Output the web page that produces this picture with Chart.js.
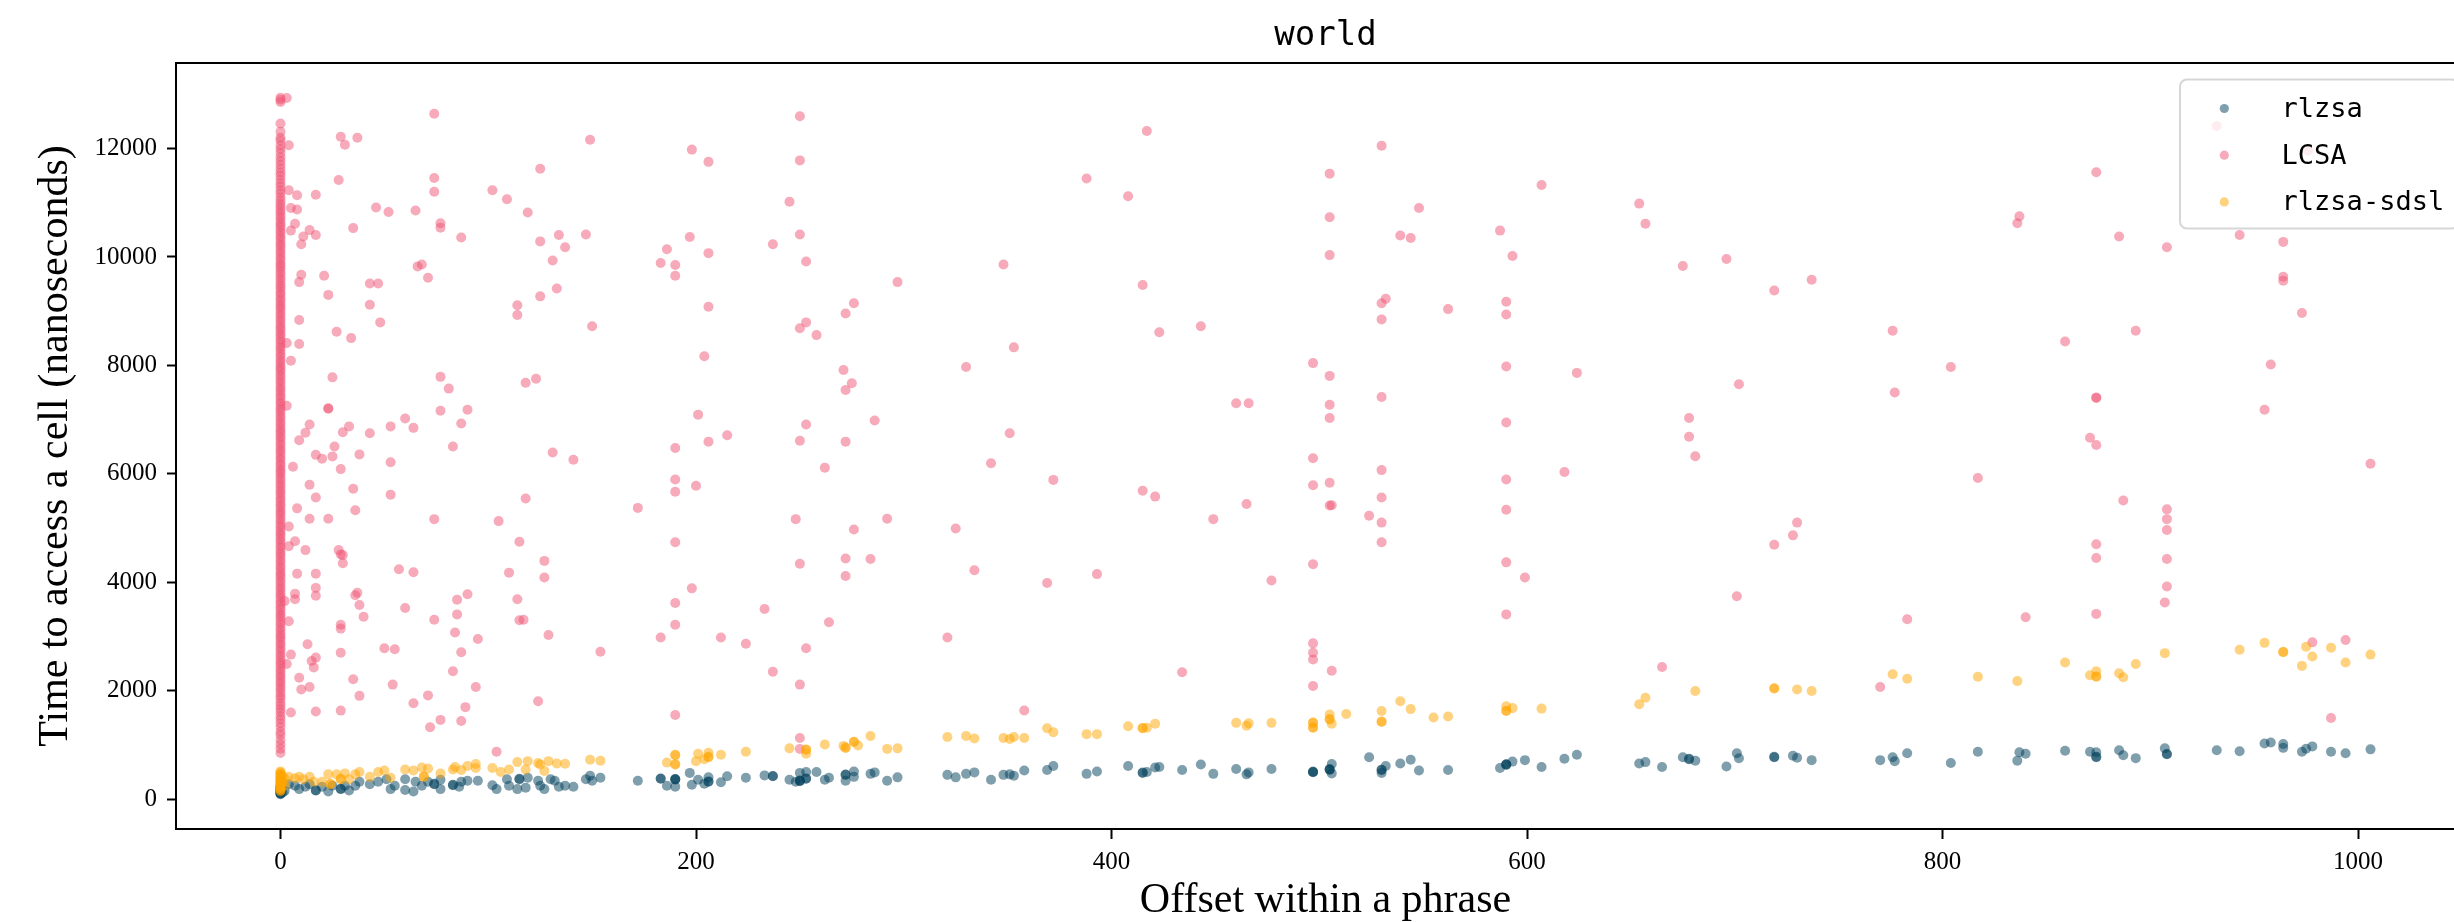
<!DOCTYPE html>
<html>
<head>
<meta charset="utf-8">
<script src="https://cdn.jsdelivr.net/npm/chart.js@4.4.1/dist/chart.umd.min.js"></script>
<style>
  html, body { margin: 0; padding: 0; background: #fff; overflow: hidden; }
  canvas { display: block; }
</style>
</head>
<body>
<canvas id="chart" width="2480" height="922"></canvas>
<script>
// --- data: [offset, nanoseconds] ---
var chartTitle = 'world';
var seriesNames = ['rlzsa', 'LCSA', 'rlzsa-sdsl'];
var xTicks = [0, 200, 400, 600, 800, 1000];
var yTicks = [0, 2000, 4000, 6000, 8000, 10000, 12000];

// samples measured at offset 0 (the dense column)
var rlzsaAtZero = [90, 98, 108, 118, 130, 145, 160, 178, 195, 215, 235];
var sdslAtZero = [140, 160, 178, 195, 212, 228, 245, 262, 278, 295, 310, 326, 342, 360, 376, 392, 410, 428, 446, 466, 488, 510];
var lcsaAtZero = [848, 930, 1010, 1090, 1180, 1240, 1330, 1400, 1470, 1530, 1600, 1660, 1720, 1780, 1850, 1900, 1960, 2020, 2070, 2130,
  2180, 2240, 2290, 2350, 2400, 2460, 2510, 2560, 2620, 2670, 2730, 2780, 2840, 2890, 2950, 3000, 3050, 3110, 3160, 3220,
  3270, 3330, 3380, 3430, 3490, 3540, 3600, 3650, 3710, 3760, 3810, 3870, 3920, 3980, 4030, 4090, 4140, 4190, 4250, 4300,
  4360, 4410, 4470, 4520, 4570, 4630, 4680, 4740, 4790, 4850, 4900, 4950, 5010, 5060, 5120, 5170, 5230, 5280, 5330, 5390,
  5440, 5500, 5550, 5610, 5660, 5710, 5770, 5820, 5880, 5930, 5990, 6040, 6090, 6150, 6200, 6260, 6310, 6370, 6420, 6470,
  6530, 6580, 6640, 6690, 6750, 6800, 6850, 6910, 6960, 7020, 7070, 7130, 7180, 7230, 7290, 7340, 7400, 7450, 7510, 7560,
  7610, 7670, 7720, 7780, 7830, 7890, 7940, 7990, 8050, 8100, 8160, 8210, 8270, 8320, 8370, 8430, 8480, 8540, 8590, 8650,
  8700, 8750, 8810, 8860, 8920, 8970, 9030, 9080, 9130, 9190, 9240, 9300, 9350, 9410, 9460, 9510, 9570, 9620, 9680, 9730,
  9790, 9840, 9890, 9950, 10000, 10060, 10110, 10170, 10220, 10270, 10330, 10380, 10440, 10490, 10550, 10600, 10650, 10710,
  10760, 10820, 10870, 10930, 10980, 11040, 11100, 11170, 11230, 11300, 11360, 11430, 11500, 11560, 11630, 11700, 11770,
  11840, 11920, 11990, 12060, 12150, 12200, 12310, 12460, 12860, 12900, 12935];

var rlzsaPoints = [[1, 120], [2, 150],
  [4, 273], [7, 246], [9, 183], [12, 228], [14, 273], [17, 156], [17, 160], [20, 228], [23, 138], [25, 246], [29, 183], [29, 190],
  [31, 246], [33, 156], [36, 246], [38, 319], [43, 273], [47, 319], [51, 364], [53, 183], [55, 246], [60, 364], [60, 165],
  [64, 138], [65, 319], [68, 246], [71, 319], [74, 273], [74, 280], [77, 183], [77, 355], [83, 255], [83, 262], [87, 319], [86, 228],
  [90, 337], [95, 337], [102, 255], [104, 183], [109, 364], [110, 246], [114, 183], [115, 364], [115, 372], [118, 210], [119, 391],
  [124, 337], [125, 246], [127, 183], [130, 364], [132, 337], [134, 228], [137, 246], [141, 228], [147, 364], [149, 428], [150, 337],
  [154, 391],
  [172, 337], [183, 373], [183, 380], [186, 246], [190, 364], [190, 358], [190, 370], [190, 228], [197, 482], [198, 264], [201, 355],
  [204, 282], [206, 400], [206, 319], [206, 325], [212, 310], [215, 419], [224, 391], [233, 436], [237, 419], [237, 425], [245, 355],
  [248, 319], [250, 482], [250, 337], [250, 330], [250, 344], [253, 500], [253, 373], [253, 380], [258, 500], [262, 355], [264, 391],
  [272, 446], [272, 452], [272, 337], [276, 509], [276, 409], [284, 464], [286, 491], [292, 337], [297, 400], [321, 446], [325, 400],
  [330, 464], [334, 491], [342, 355], [348, 446], [351, 455], [353, 428], [358, 527], [369, 536], [372, 609], [388, 464],
  [393, 509], [408, 608], [415, 482], [415, 490], [417, 500], [421, 581], [423, 590], [434, 536], [443, 636], [449, 464], [460, 554],
  [465, 455], [466, 491], [477, 554], [497, 500], [497, 494], [497, 506], [505, 545], [505, 538], [505, 552], [506, 645], [506, 473],
  [524, 772], [530, 536], [530, 542], [530, 482], [532, 608], [539, 654], [544, 726], [548, 527], [562, 536], [587, 572], [590, 636],
  [590, 630], [590, 642], [593, 690], [599, 717], [607, 590],
  [618, 744], [624, 817], [654, 654], [657, 681], [665, 590], [675, 772], [678, 735], [678, 741], [681, 708], [696, 599], [701, 844],
  [702, 753], [719, 772], [719, 778], [728, 799], [730, 763], [737, 717], [770, 717], [776, 772], [777, 699], [783, 844], [804, 663],
  [817, 871],
  [837, 862], [836, 708], [840, 835], [859, 890], [871, 871], [874, 862], [874, 772], [874, 778], [885, 899], [887, 808], [893, 754],
  [907, 935], [908, 826], [908, 832], [932, 899], [943, 881], [955, 1025], [958, 1043], [964, 1016], [964, 944], [973, 871], [975, 926],
  [978, 971], [987, 871], [994, 844], [1006, 916]];

var lcsaPoints = [[3, 12931], [74, 12641], [29, 12216], [37, 12198], [31, 12071], [149, 12161], [4, 12062], [125, 11627], [28, 11419],
  [74, 11455], [74, 11202], [4, 11229], [8, 11138], [17, 11147], [102, 11229], [109, 11066], [5, 10903], [8, 10876], [46, 10912],
  [52, 10830], [65, 10858], [119, 10821], [77, 10622], [77, 10541], [7, 10613], [5, 10486], [14, 10495], [11, 10378], [17, 10405],
  [10, 10233], [35, 10532], [87, 10360], [125, 10287], [134, 10405], [147, 10414], [137, 10178], [131, 9934], [66, 9826], [68, 9862],
  [71, 9617], [10, 9671], [9, 9536], [21, 9653], [43, 9509], [47, 9509], [23, 9300], [133, 9418], [125, 9273], [43, 9119], [114, 9110],
  [114, 8929], [48, 8793], [9, 8838], [150, 8721], [27, 8621], [34, 8503], [3, 8413], [9, 8395], [5, 8087], [25, 7779], [77, 7788],
  [81, 7571], [123, 7752], [118, 7680], [3, 7254], [23, 7200], [23, 7210], [60, 7019], [77, 7164], [90, 7182], [14, 6910], [12, 6756],
  [33, 6874], [30, 6765], [43, 6747], [53, 6874], [64, 6847], [87, 6928], [9, 6620], [83, 6503], [26, 6503], [17, 6349], [20, 6276],
  [25, 6321], [38, 6358], [53, 6213], [131, 6394], [141, 6258], [6, 6131], [29, 6086], [14, 5796], [17, 5561], [35, 5724], [53, 5615],
  [118, 5543], [8, 5362], [14, 5172], [23, 5172], [36, 5326], [74, 5163], [105, 5127], [172, 5371], [4, 5027], [7, 4755], [4, 4665],
  [12, 4592], [115, 4746], [28, 4592], [29, 4511], [30, 4500], [30, 4348], [127, 4393], [8, 4158], [17, 4158], [57, 4239], [64, 4185],
  [110, 4176], [127, 4085], [17, 3895], [7, 3787], [7, 3687], [17, 3750], [36, 3759], [37, 3805], [2, 3651], [38, 3578], [90, 3777],
  [85, 3678], [114, 3687], [40, 3361], [60, 3524], [85, 3406], [4, 3280], [74, 3307], [115, 3298], [117, 3307], [29, 3216], [29, 3144],
  [84, 3071], [95, 2953], [129, 3026], [13, 2854], [50, 2782], [55, 2763], [5, 2664], [29, 2700], [87, 2709], [154, 2718], [17, 2609],
  [15, 2546], [16, 2428], [3, 2492], [9, 2238], [35, 2211], [83, 2356], [10, 2021], [14, 2066], [54, 2111], [94, 2066], [38, 1903],
  [71, 1912], [64, 1767], [124, 1804], [89, 1695], [5, 1595], [17, 1613], [29, 1631], [77, 1460], [87, 1441], [72, 1324], [104, 871],
  [250, 12596], [198, 11980], [206, 11754], [250, 11781], [245, 11020], [388, 11446], [197, 10369], [186, 10142], [206, 10070],
  [237, 10233], [250, 10414], [183, 9889], [190, 9853], [190, 9653], [253, 9916], [348, 9862], [297, 9536], [206, 9083], [276, 9146],
  [272, 8956], [253, 8793], [250, 8685], [258, 8558], [353, 8332], [204, 8169], [330, 7970], [271, 7915], [275, 7671], [272, 7544],
  [201, 7091], [286, 6983], [253, 6910], [206, 6593], [215, 6711], [250, 6611], [272, 6593], [190, 6475], [351, 6747], [262, 6113],
  [342, 6195], [372, 5887], [190, 5896], [190, 5670], [200, 5778], [248, 5163], [292, 5172], [276, 4972], [325, 4990], [190, 4737],
  [250, 4339], [272, 4438], [284, 4429], [272, 4113], [334, 4221], [369, 3986], [198, 3886], [190, 3615], [233, 3506], [264, 3261],
  [190, 3216], [183, 2981], [212, 2981], [224, 2863], [321, 2981], [253, 2782], [237, 2347], [250, 2111], [358, 1632], [190, 1550],
  [250, 1125], [250, 925],
  [417, 12324], [408, 11120], [505, 11537], [530, 12053], [607, 11328], [505, 10731], [548, 10903], [539, 10396], [544, 10350],
  [587, 10486], [593, 10016], [505, 10034], [415, 9481], [530, 9146], [532, 9228], [530, 8848], [562, 9038], [590, 9173], [590, 8938],
  [423, 8612], [443, 8721], [497, 8042], [505, 7806], [590, 7978], [530, 7417], [460, 7300], [466, 7300], [505, 7272], [505, 7028],
  [590, 6946], [497, 6285], [530, 6068], [505, 5833], [497, 5788], [590, 5896], [415, 5688], [421, 5579], [465, 5443], [505, 5416],
  [506, 5420], [530, 5561], [524, 5226], [530, 5099], [590, 5335], [449, 5163], [530, 4737], [393, 4149], [477, 4031], [497, 4330],
  [590, 4366], [599, 4085], [590, 3406], [497, 2872], [497, 2700], [497, 2573], [434, 2338], [506, 2365], [497, 2084],
  [654, 10984], [657, 10613], [675, 9834], [696, 9961], [719, 9382], [737, 9581], [776, 8639], [804, 7970], [624, 7861], [702, 7653],
  [777, 7499], [678, 7028], [678, 6684], [681, 6322], [618, 6032], [817, 5923], [730, 5099], [728, 4864], [719, 4692], [701, 3741],
  [783, 3316], [665, 2437], [770, 2066],
  [874, 11564], [837, 10749], [836, 10622], [885, 10378], [908, 10179], [943, 10405], [964, 10278], [964, 9635], [964, 9563],
  [973, 8965], [893, 8639], [859, 8440], [958, 8015], [874, 7408], [874, 7400], [955, 7182], [871, 6666], [874, 6530], [1006, 6186],
  [887, 5507], [908, 5344], [908, 5163], [908, 4964], [874, 4701], [874, 4447], [908, 4429], [908, 3922], [907, 3624], [840, 3352],
  [874, 3415], [978, 2890], [994, 2935], [987, 1496], [932, 12415], [976, 11960]];

var sdslPoints = [[1, 300], [1, 420], [2, 250], [2, 380],
  [4, 409], [7, 382], [9, 409], [11, 364], [14, 409], [16, 319], [20, 319], [23, 455], [24, 273], [24, 280], [27, 455], [29, 364],
  [29, 372], [31, 473], [33, 364], [36, 455], [38, 500], [43, 409], [47, 500], [50, 527], [53, 391], [60, 545], [64, 527], [68, 581],
  [69, 409], [69, 418], [71, 563], [77, 473], [83, 545], [84, 591], [87, 536], [90, 608], [94, 645], [94, 572], [102, 572], [106, 500],
  [110, 545], [114, 681], [118, 545], [119, 699], [124, 663], [125, 636], [127, 518], [129, 699], [133, 654], [137, 651], [149, 726],
  [154, 708],
  [186, 672], [190, 808], [190, 815], [190, 636], [190, 642], [201, 835], [200, 699], [204, 735], [206, 853], [206, 772], [206, 778],
  [212, 817], [224, 871], [245, 935], [253, 907], [253, 913], [253, 835], [262, 1007], [271, 980], [272, 943], [272, 950], [276, 1052],
  [276, 1058], [278, 989], [284, 1161], [292, 925], [297, 935], [321, 1143], [330, 1161], [334, 1116], [348, 1125], [351, 1107],
  [353, 1143], [358, 1125], [369, 1306], [372, 1233], [388, 1197],
  [393, 1197], [408, 1342], [415, 1306], [415, 1312], [417, 1315], [421, 1387], [460, 1405], [465, 1351], [466, 1396], [477, 1405],
  [497, 1405], [497, 1410], [497, 1315], [497, 1320], [505, 1559], [505, 1468], [505, 1474], [506, 1387], [513, 1568], [530, 1623],
  [530, 1423], [530, 1429], [539, 1804], [544, 1659], [555, 1505], [562, 1523], [590, 1713], [590, 1623], [590, 1629], [593, 1677],
  [607, 1668],
  [654, 1749], [657, 1867], [681, 1994], [719, 2039], [719, 2045], [730, 2021], [737, 1994], [776, 2301], [783, 2220], [817, 2256],
  [836, 2175], [859, 2519], [871, 2284], [874, 2356], [874, 2256], [874, 2262], [885, 2320], [887, 2247], [893, 2492], [907, 2691],
  [943, 2754], [955, 2881], [964, 2709], [964, 2715], [973, 2456], [975, 2809], [978, 2628], [987, 2791], [994, 2519], [1006, 2664]];

var seriesColors = ['rgba(0, 63, 92, 0.5)', 'rgba(239, 86, 117, 0.5)', 'rgba(255, 166, 0, 0.5)'];

function toXY(pairs, zeroColumn) {
  var out = zeroColumn.map(function (v) { return {x: 0, y: v}; });
  pairs.forEach(function (p) { out.push({x: p[0], y: p[1]}); });
  return out;
}

var serif = '"Liberation Serif", "DejaVu Serif", serif';
var mono = '"DejaVu Sans Mono", "Liberation Mono", monospace';

// frame, title and legend drawn the way matplotlib places them
var decorations = {
  id: 'decorations',
  afterDraw: function (chart) {
    var ctx = chart.ctx, a = chart.chartArea;
    ctx.save();
    ctx.strokeStyle = '#000';
    ctx.lineWidth = 2;
    ctx.strokeRect(a.left, a.top, a.right - a.left, a.bottom - a.top);

    ctx.fillStyle = '#000';
    ctx.font = '34px ' + mono;
    ctx.textAlign = 'center';
    ctx.textBaseline = 'alphabetic';
    ctx.fillText(chartTitle, (a.left + a.right) / 2, a.top - 18);

    var lx = a.right - 295, ly = a.top + 16.5, lw = 279, lh = 149;
    ctx.beginPath();
    ctx.roundRect(lx, ly, lw, lh, 7);
    ctx.fillStyle = 'rgba(255,255,255,0.8)';
    ctx.fill();
    ctx.strokeStyle = 'rgba(204,204,204,0.8)';
    ctx.lineWidth = 2;
    ctx.stroke();

    ctx.font = '27px ' + mono;
    ctx.textAlign = 'left';
    chart.data.datasets.forEach(function (ds, i) {
      var ry = ly + 29 + i * 46.7;
      ctx.beginPath();
      ctx.arc(lx + 44.3, ry, 4.6, 0, Math.PI * 2);
      ctx.fillStyle = ds.backgroundColor;
      ctx.fill();
      ctx.fillStyle = '#000';
      ctx.fillText(ds.label, lx + 101.6, ry + 8.5);
    });
    ctx.restore();
  }
};

function plainNumber(v) { return String(v); }

new Chart(document.getElementById('chart'), {
  type: 'scatter',
  data: {
    datasets: [
      {label: seriesNames[0], data: toXY(rlzsaPoints, rlzsaAtZero), backgroundColor: seriesColors[0], order: 3},
      {label: seriesNames[1], data: toXY(lcsaPoints, lcsaAtZero), backgroundColor: seriesColors[1], order: 2},
      {label: seriesNames[2], data: toXY(sdslPoints, sdslAtZero), backgroundColor: seriesColors[2], order: 1}
    ]
  },
  options: {
    responsive: false,
    animation: false,
    devicePixelRatio: 1,
    elements: {point: {radius: 5, borderWidth: 0, hoverRadius: 5}},
    layout: {padding: {top: 63, right: 3, left: 0, bottom: 0}},
    plugins: {legend: {display: false}, tooltip: {enabled: false}},
    scales: {
      x: {
        type: 'linear', min: -50.3, max: 1056.3,
        afterBuildTicks: function (s) { s.ticks = xTicks.map(function (v) { return {value: v}; }); },
        afterFit: function (s) { s.height = 93; },
        ticks: {color: '#000', font: {family: serif, size: 25}, padding: 8, maxRotation: 0, callback: plainNumber},
        grid: {drawOnChartArea: false, drawTicks: true, tickLength: 10, tickWidth: 2, tickColor: '#000'},
        border: {display: true, color: '#000', width: 2},
        title: {display: true, text: 'Offset within a phrase', color: '#000', font: {family: serif, size: 42, lineHeight: 1.0}, padding: 0}
      },
      y: {
        type: 'linear', min: -553, max: 13578,
        afterBuildTicks: function (s) { s.ticks = yTicks.map(function (v) { return {value: v}; }); },
        afterFit: function (s) { s.width = 176; },
        ticks: {color: '#000', font: {family: serif, size: 25}, padding: 10, callback: plainNumber},
        grid: {drawOnChartArea: false, drawTicks: true, tickLength: 9, tickWidth: 2, tickColor: '#000'},
        border: {display: true, color: '#000', width: 2},
        title: {display: true, text: 'Time to access a cell (nanoseconds)', color: '#000', font: {family: serif, size: 42}, padding: {top: 31, bottom: 0}}
      }
    }
  },
  plugins: [decorations]
});
</script>
</body>
</html>
